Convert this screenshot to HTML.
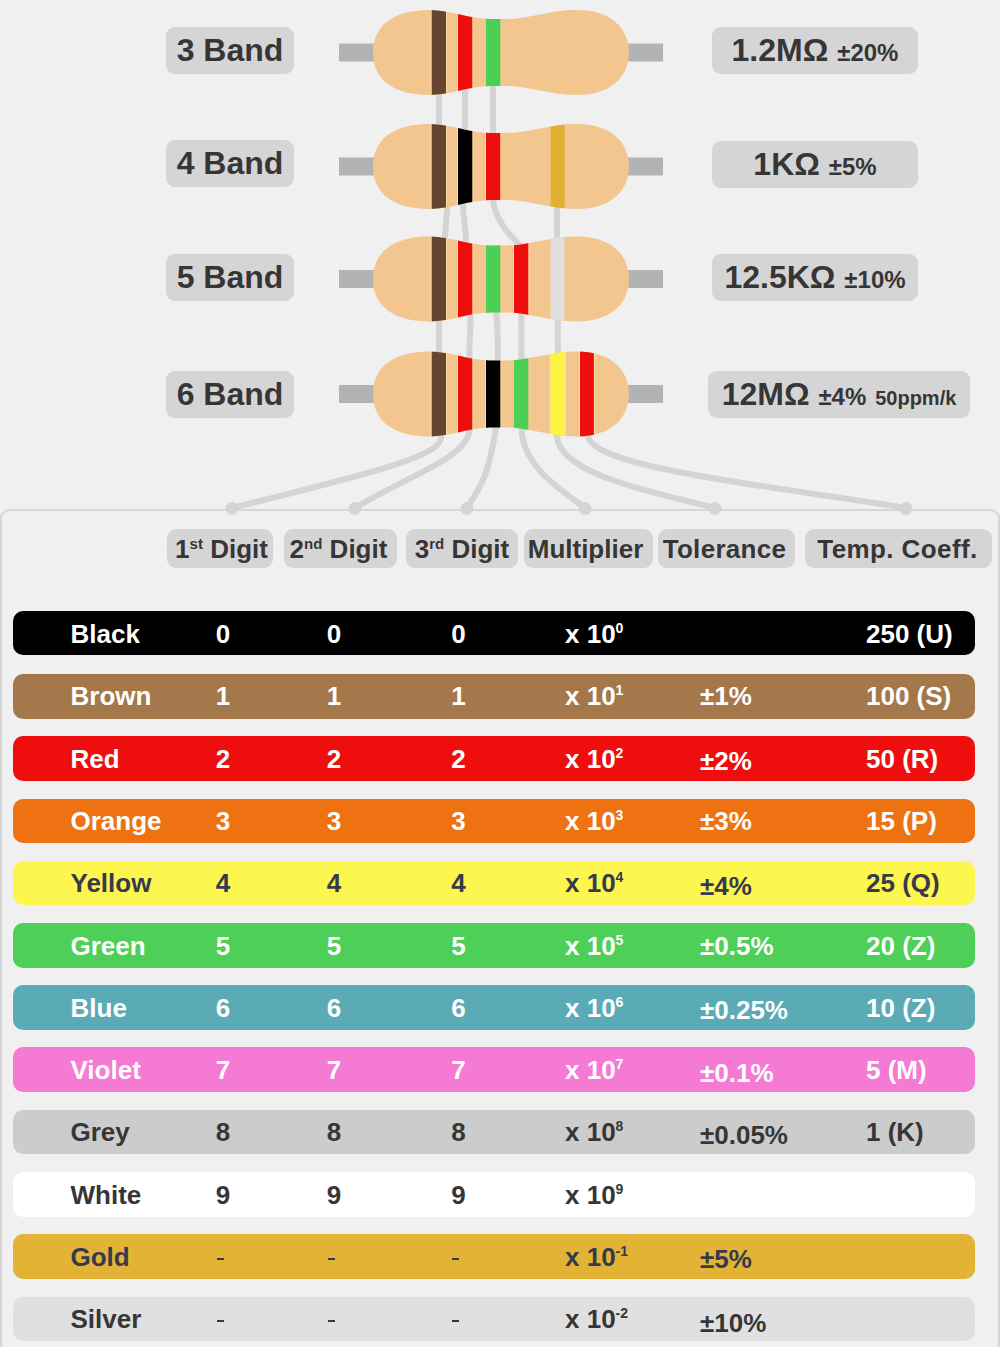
<!DOCTYPE html><html><head><meta charset="utf-8"><title>Resistor Color Code</title><style>
html,body{margin:0;padding:0;width:1000px;height:1347px;overflow:hidden;background:#f0f0f0;}
body{position:relative;font-family:"Liberation Sans",sans-serif;font-weight:bold;color:#363636;}
.lb{position:absolute;background:#d6d5d6;border-radius:9px;text-align:center;line-height:47px;white-space:nowrap;}
.big{font-size:32px;}
.sm{font-size:24px;}
.xs{font-size:20px;}
.hd{position:absolute;top:529px;height:39px;line-height:39px;background:#d6d5d6;border-radius:9px;text-align:center;font-size:26px;white-space:nowrap;padding-top:1px;box-sizing:border-box;}
.hd sup{font-size:15px;vertical-align:0;position:relative;top:-9px;line-height:0;}
.row{position:absolute;left:13px;width:962px;height:44.5px;border-radius:10px;font-size:26px;}
.row span{position:absolute;top:7.5px;white-space:nowrap;}
.row .c{width:40px;text-align:center;margin-left:-20px;}
.row sup{font-size:14px;vertical-align:0;position:relative;top:-10px;line-height:0;}
.row .tol{top:10px;}
.row .dash{position:absolute;top:23.8px;width:7px;height:1.5px;background:currentColor;}

</style></head><body>
<svg width="1000" height="1347" style="position:absolute;left:0;top:0">
<defs>
<clipPath id="c0"><path d="M430,10.0 C450,10.0 470,19.0 490,19.0 L505,19.0 C530,19.0 550,10.0 576,10.0 C617,10.0 629,33.5 629,52.5 C629,71.5 617,95.0 576,95.0 C550,95.0 530,86.0 505,86.0 L490,86.0 C470,86.0 450,95.0 430,95.0 C387,95.0 373,74.5 373,52.5 C373,30.5 387,10.0 430,10.0 Z"/></clipPath>
<clipPath id="c1"><path d="M430,124.0 C450,124.0 470,133.0 490,133.0 L505,133.0 C530,133.0 550,124.0 576,124.0 C617,124.0 629,147.5 629,166.5 C629,185.5 617,209.0 576,209.0 C550,209.0 530,200.0 505,200.0 L490,200.0 C470,200.0 450,209.0 430,209.0 C387,209.0 373,188.5 373,166.5 C373,144.5 387,124.0 430,124.0 Z"/></clipPath>
<clipPath id="c2"><path d="M430,236.5 C450,236.5 470,245.5 490,245.5 L505,245.5 C530,245.5 550,236.5 576,236.5 C617,236.5 629,260 629,279 C629,298 617,321.5 576,321.5 C550,321.5 530,312.5 505,312.5 L490,312.5 C470,312.5 450,321.5 430,321.5 C387,321.5 373,301 373,279 C373,257 387,236.5 430,236.5 Z"/></clipPath>
<clipPath id="c3"><path d="M430,351.5 C450,351.5 470,360.5 490,360.5 L505,360.5 C530,360.5 550,351.5 576,351.5 C617,351.5 629,375 629,394 C629,413 617,436.5 576,436.5 C550,436.5 530,427.5 505,427.5 L490,427.5 C470,427.5 450,436.5 430,436.5 C387,436.5 373,416 373,394 C373,372 387,351.5 430,351.5 Z"/></clipPath>
</defs>
<rect x="1" y="510" width="998" height="900" rx="8.5" fill="none" stroke="#d6d6d6" stroke-width="2"/>
<path d="M439,60 L439,95 L439,124 L447,209 L445,237 L439,321 L439,351 L441,436 C446.4,458.3 333.9,481.7 232,508" fill="none" stroke="#d4d4d4" stroke-width="6" stroke-linecap="round" stroke-linejoin="round"/>
<path d="M465,60 L465,95 L465,124 L463,209 L466,237 L470.6,321 L469.4,351 L470,428 C468.5,458.2 410.4,474.1 355,508" fill="none" stroke="#d4d4d4" stroke-width="6" stroke-linecap="round" stroke-linejoin="round"/>
<path d="M493,60 L493,95 L493,124 L493,200 C496,222 510,235 521,247 L521.4,321 L521.5,351 L522,436 C528.7,469.8 557.7,487.4 585,508" fill="none" stroke="#d4d4d4" stroke-width="6" stroke-linecap="round" stroke-linejoin="round"/>
<path d="M493,290 L497.2,321 L497.9,351 L496,428 C488,476 482,485 467,508" fill="none" stroke="#d4d4d4" stroke-width="6" stroke-linecap="round" stroke-linejoin="round"/>
<path d="M558,170 L557,209 L557,237 L557.8,321 L557.9,351 L557,436 C558.7,475.4 660.3,493.7 715,508" fill="none" stroke="#d4d4d4" stroke-width="6" stroke-linecap="round" stroke-linejoin="round"/>
<path d="M587,400 L588,436 C593,468.6 774.2,486 906,508" fill="none" stroke="#d4d4d4" stroke-width="6" stroke-linecap="round" stroke-linejoin="round"/>
<circle cx="232" cy="508.5" r="6.5" fill="#d4d4d4"/>
<circle cx="355" cy="508.5" r="6.5" fill="#d4d4d4"/>
<circle cx="467" cy="508.5" r="6.5" fill="#d4d4d4"/>
<circle cx="585" cy="508.5" r="6.5" fill="#d4d4d4"/>
<circle cx="715" cy="508.5" r="6.5" fill="#d4d4d4"/>
<circle cx="906" cy="508.5" r="6.5" fill="#d4d4d4"/>
<rect x="339" y="43.5" width="40" height="18" fill="#b3b3b3"/>
<rect x="620" y="43.5" width="43" height="18" fill="#b3b3b3"/>
<path d="M430,10.0 C450,10.0 470,19.0 490,19.0 L505,19.0 C530,19.0 550,10.0 576,10.0 C617,10.0 629,33.5 629,52.5 C629,71.5 617,95.0 576,95.0 C550,95.0 530,86.0 505,86.0 L490,86.0 C470,86.0 450,95.0 430,95.0 C387,95.0 373,74.5 373,52.5 C373,30.5 387,10.0 430,10.0 Z" fill="#f2c68e"/>
<g clip-path="url(#c0)">
<rect x="430.7" y="2.5" width="16.3" height="100" fill="#fddb9e"/>
<rect x="431.7" y="2.5" width="14.3" height="100" fill="#664430"/>
<rect x="457" y="2.5" width="16.3" height="100" fill="#fddb9e"/>
<rect x="458" y="2.5" width="14.3" height="100" fill="#ee0e0e"/>
<rect x="486" y="2.5" width="14.3" height="100" fill="#4ccf55"/>
</g>
<rect x="339" y="157.5" width="40" height="18" fill="#b3b3b3"/>
<rect x="620" y="157.5" width="43" height="18" fill="#b3b3b3"/>
<path d="M430,124.0 C450,124.0 470,133.0 490,133.0 L505,133.0 C530,133.0 550,124.0 576,124.0 C617,124.0 629,147.5 629,166.5 C629,185.5 617,209.0 576,209.0 C550,209.0 530,200.0 505,200.0 L490,200.0 C470,200.0 450,209.0 430,209.0 C387,209.0 373,188.5 373,166.5 C373,144.5 387,124.0 430,124.0 Z" fill="#f2c68e"/>
<g clip-path="url(#c1)">
<rect x="430.7" y="116.5" width="16.3" height="100" fill="#fddb9e"/>
<rect x="431.7" y="116.5" width="14.3" height="100" fill="#664430"/>
<rect x="457" y="116.5" width="16.3" height="100" fill="#fddb9e"/>
<rect x="458" y="116.5" width="14.3" height="100" fill="#000000"/>
<rect x="485" y="116.5" width="16.3" height="100" fill="#fddb9e"/>
<rect x="486" y="116.5" width="14.3" height="100" fill="#ee0e0e"/>
<rect x="550.6" y="116.5" width="13.9" height="100" fill="#e0b030"/>
</g>
<rect x="339" y="270" width="40" height="18" fill="#b3b3b3"/>
<rect x="620" y="270" width="43" height="18" fill="#b3b3b3"/>
<path d="M430,236.5 C450,236.5 470,245.5 490,245.5 L505,245.5 C530,245.5 550,236.5 576,236.5 C617,236.5 629,260 629,279 C629,298 617,321.5 576,321.5 C550,321.5 530,312.5 505,312.5 L490,312.5 C470,312.5 450,321.5 430,321.5 C387,321.5 373,301 373,279 C373,257 387,236.5 430,236.5 Z" fill="#f2c68e"/>
<g clip-path="url(#c2)">
<rect x="430.7" y="229" width="16.3" height="100" fill="#fddb9e"/>
<rect x="431.7" y="229" width="14.3" height="100" fill="#664430"/>
<rect x="457" y="229" width="16.3" height="100" fill="#fddb9e"/>
<rect x="458" y="229" width="14.3" height="100" fill="#ee0e0e"/>
<rect x="486" y="229" width="14.3" height="100" fill="#4ccf55"/>
<rect x="513" y="229" width="16.3" height="100" fill="#fddb9e"/>
<rect x="514" y="229" width="14.3" height="100" fill="#ee0e0e"/>
<rect x="550.6" y="229" width="13.9" height="100" fill="#e0e0e0"/>
</g>
<rect x="339" y="385" width="40" height="18" fill="#b3b3b3"/>
<rect x="620" y="385" width="43" height="18" fill="#b3b3b3"/>
<path d="M430,351.5 C450,351.5 470,360.5 490,360.5 L505,360.5 C530,360.5 550,351.5 576,351.5 C617,351.5 629,375 629,394 C629,413 617,436.5 576,436.5 C550,436.5 530,427.5 505,427.5 L490,427.5 C470,427.5 450,436.5 430,436.5 C387,436.5 373,416 373,394 C373,372 387,351.5 430,351.5 Z" fill="#f2c68e"/>
<g clip-path="url(#c3)">
<rect x="430.7" y="344" width="16.3" height="100" fill="#fddb9e"/>
<rect x="431.7" y="344" width="14.3" height="100" fill="#664430"/>
<rect x="457" y="344" width="16.3" height="100" fill="#fddb9e"/>
<rect x="458" y="344" width="14.3" height="100" fill="#ee0e0e"/>
<rect x="485" y="344" width="16.3" height="100" fill="#fddb9e"/>
<rect x="486" y="344" width="14.3" height="100" fill="#000000"/>
<rect x="514" y="344" width="14.3" height="100" fill="#4ccf55"/>
<rect x="549.6" y="344" width="16.3" height="100" fill="#fddb9e"/>
<rect x="550.6" y="344" width="13.9" height="100" fill="#fcf440"/>
<rect x="579" y="344" width="16.3" height="100" fill="#fddb9e"/>
<rect x="580" y="344" width="13.9" height="100" fill="#ee0e0e"/>
</g>
</svg>
<div class="lb big" style="left:166px;top:27px;width:128px;height:47px">3 Band</div>
<div class="lb big" style="left:166px;top:140px;width:128px;height:47px">4 Band</div>
<div class="lb big" style="left:166px;top:254px;width:128px;height:47px">5 Band</div>
<div class="lb big" style="left:166px;top:371px;width:128px;height:47px">6 Band</div>
<div class="lb big" style="left:712px;top:27px;width:206px;height:47px">1.2MΩ <span class="sm">±20%</span></div>
<div class="lb big" style="left:712px;top:141px;width:206px;height:47px">1KΩ <span class="sm">±5%</span></div>
<div class="lb big" style="left:712px;top:254px;width:206px;height:47px">12.5KΩ <span class="sm">±10%</span></div>
<div class="lb big" style="left:708px;top:371px;width:262px;height:47px">12MΩ <span class="sm">±4%</span> <span class="xs">50ppm/k</span></div>
<div class="hd" style="left:167px;width:106px;padding-left:3px">1<sup>st</sup> Digit</div>
<div class="hd" style="left:284px;width:113px;padding-right:4px">2<sup>nd</sup> Digit</div>
<div class="hd" style="left:406px;width:112px;">3<sup>rd</sup> Digit</div>
<div class="hd" style="left:524px;width:129px;padding-right:6px">Multiplier</div>
<div class="hd" style="left:658px;width:137px;padding-right:4px;letter-spacing:0.3px">Tolerance</div>
<div class="hd" style="left:805px;width:187px;letter-spacing:0.4px;padding-right:2px">Temp. Coeff.</div>
<div class="row" style="top:610.7px;background:#000000;color:#ffffff"><div style="position:absolute;left:0;top:0.5px;width:100%;height:100%"><span style="left:57.5px">Black</span><span class="c" style="left:210px">0</span><span class="c" style="left:321px">0</span><span class="c" style="left:445.5px">0</span><span style="left:552px">x 10<sup>0</sup></span><span style="left:853px">250 (U)</span></div></div>
<div class="row" style="top:674.1px;background:#a4784a;color:#ffffff"><div style="position:absolute;left:0;top:-1px;width:100%;height:100%"><span style="left:57.5px">Brown</span><span class="c" style="left:210px">1</span><span class="c" style="left:321px">1</span><span class="c" style="left:445.5px">1</span><span style="left:552px">x 10<sup>1</sup></span><span style="left:687px;top:7.85px">±1%</span><span style="left:853px">100 (S)</span></div></div>
<div class="row" style="top:736.3px;background:#ee0e0e;color:#ffffff"><div style="position:absolute;left:0;top:0px;width:100%;height:100%"><span style="left:57.5px">Red</span><span class="c" style="left:210px">2</span><span class="c" style="left:321px">2</span><span class="c" style="left:445.5px">2</span><span style="left:552px">x 10<sup>2</sup></span><span style="left:687px;top:10.05px">±2%</span><span style="left:853px">50 (R)</span></div></div>
<div class="row" style="top:798.8px;background:#ee7212;color:#ffffff"><div style="position:absolute;left:0;top:0px;width:100%;height:100%"><span style="left:57.5px">Orange</span><span class="c" style="left:210px">3</span><span class="c" style="left:321px">3</span><span class="c" style="left:445.5px">3</span><span style="left:552px">x 10<sup>3</sup></span><span style="left:687px;top:7.25px">±3%</span><span style="left:853px">15 (P)</span></div></div>
<div class="row" style="top:860.8px;background:#fdf64e;color:#363a4c"><div style="position:absolute;left:0;top:0px;width:100%;height:100%"><span style="left:57.5px">Yellow</span><span class="c" style="left:210px">4</span><span class="c" style="left:321px">4</span><span class="c" style="left:445.5px">4</span><span style="left:552px">x 10<sup>4</sup></span><span style="left:687px;top:10.05px">±4%</span><span style="left:853px">25 (Q)</span></div></div>
<div class="row" style="top:923.1px;background:#4dcf58;color:#ffffff"><div style="position:absolute;left:0;top:0px;width:100%;height:100%"><span style="left:57.5px">Green</span><span class="c" style="left:210px">5</span><span class="c" style="left:321px">5</span><span class="c" style="left:445.5px">5</span><span style="left:552px">x 10<sup>5</sup></span><span style="left:687px;top:8.3px">±0.5%</span><span style="left:853px">20 (Z)</span></div></div>
<div class="row" style="top:985.3px;background:#5aabb5;color:#ffffff"><div style="position:absolute;left:0;top:0px;width:100%;height:100%"><span style="left:57.5px">Blue</span><span class="c" style="left:210px">6</span><span class="c" style="left:321px">6</span><span class="c" style="left:445.5px">6</span><span style="left:552px">x 10<sup>6</sup></span><span style="left:687px;top:9.3px">±0.25%</span><span style="left:853px">10 (Z)</span></div></div>
<div class="row" style="top:1047.4px;background:#f57ad3;color:#ffffff"><div style="position:absolute;left:0;top:0px;width:100%;height:100%"><span style="left:57.5px">Violet</span><span class="c" style="left:210px">7</span><span class="c" style="left:321px">7</span><span class="c" style="left:445.5px">7</span><span style="left:552px">x 10<sup>7</sup></span><span style="left:687px;top:10.8px">±0.1%</span><span style="left:853px">5 (M)</span></div></div>
<div class="row" style="top:1109.7px;background:#cccccc;color:#363636"><div style="position:absolute;left:0;top:0px;width:100%;height:100%"><span style="left:57.5px">Grey</span><span class="c" style="left:210px">8</span><span class="c" style="left:321px">8</span><span class="c" style="left:445.5px">8</span><span style="left:552px">x 10<sup>8</sup></span><span style="left:687px;top:9.9px">±0.05%</span><span style="left:853px">1 (K)</span></div></div>
<div class="row" style="top:1172.0px;background:#ffffff;color:#363636"><div style="position:absolute;left:0;top:0px;width:100%;height:100%"><span style="left:57.5px">White</span><span class="c" style="left:210px">9</span><span class="c" style="left:321px">9</span><span class="c" style="left:445.5px">9</span><span style="left:552px">x 10<sup>9</sup></span></div></div>
<div class="row" style="top:1234.4px;background:#e2b335;color:#363a4c"><div style="position:absolute;left:0;top:0px;width:100%;height:100%"><span style="left:57.5px">Gold</span><b class="dash" style="left:203.5px"></b><b class="dash" style="left:314.5px"></b><b class="dash" style="left:439.0px"></b><span style="left:552px">x 10<sup>-1</sup></span><span style="left:687px;top:9.5px">±5%</span></div></div>
<div class="row" style="top:1296.6px;background:#e0e0e0;color:#363636"><div style="position:absolute;left:0;top:0px;width:100%;height:100%"><span style="left:57.5px">Silver</span><b class="dash" style="left:203.5px"></b><b class="dash" style="left:314.5px"></b><b class="dash" style="left:439.0px"></b><span style="left:552px">x 10<sup>-2</sup></span><span style="left:687px;top:11.5px">±10%</span></div></div>
</body></html>
